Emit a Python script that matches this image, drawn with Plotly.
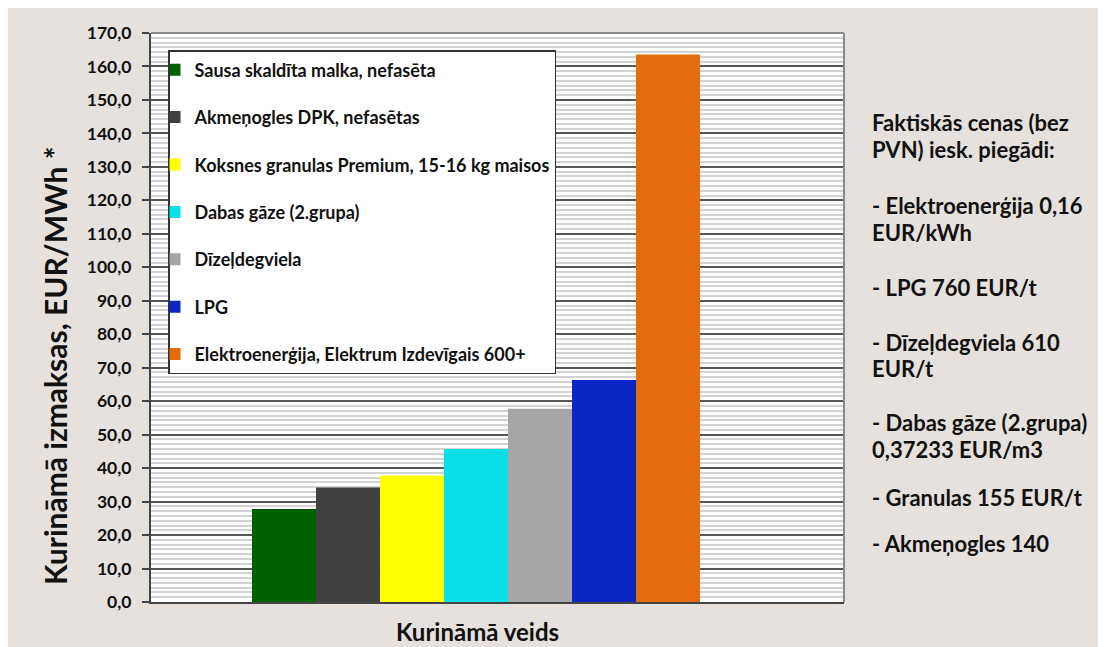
import plotly.graph_objects as go

# ---- data ----
category = ["Kurināmā veids"]
series_names = [
    "Sausa skaldīta malka, nefasēta",
    "Akmeņogles DPK, nefasētas",
    "Koksnes granulas Premium, 15-16 kg maisos",
    "Dabas gāze (2.grupa)",
    "Dīzeļdegviela",
    "LPG",
    "Elektroenerģija, Elektrum Izdevīgais 600+",
]
series_values = [27.8, 34.2, 37.8, 45.7, 57.7, 66.3, 163.6]
series_colors = ["#006100", "#404040", "#ffff00", "#08dfe6", "#a6a6a6", "#0a27c4", "#e46c0a"]
y_title = "Kurināmā izmaksas, EUR/MWh *"
x_title = "Kurināmā veids"
note_lines = [
    "Faktiskās cenas (bez",
    "PVN) iesk. piegādi:",
    "- Elektroenerģija 0,16",
    "EUR/kWh",
    "- LPG 760 EUR/t",
    "- Dīzeļdegviela 610",
    "EUR/t",
    "- Dabas gāze (2.grupa)",
    "0,37233 EUR/m3",
    "- Granulas 155 EUR/t",
    "- Akmeņogles 140",
]

# ---- layout geometry (screen pixels; page has an 8px body margin) ----
OX, OY = 8, 8
FIG_W, FIG_H = 1098, 639
L, R, T, B = 151, 844, 33, 602          # plot area in screen pixels
W, H = R - L, B - T
FONT = "Lato"
BEIGE = "#e6e1dd"


def px2x(px):
    return (px - L) / W


def py2y(py):
    return (B - py) / H


fig = go.Figure()
for i, (name, val, col) in enumerate(zip(series_names, series_values, series_colors)):
    fig.add_trace(go.Bar(
        x=category, y=[val], name=name,
        marker=dict(color=col, line=dict(width=0)),
        legendgroup=f"g{i}",
    ))

note_y = [123, 150, 205, 232, 287, 342, 368, 423, 450, 497, 543]
annotations = []
for line, yp in zip(note_lines, note_y):
    annotations.append(dict(
        text=line, xref="paper", yref="paper", x=px2x(870), y=py2y(yp),
        xanchor="left", yanchor="middle", showarrow=False,
        font=dict(family=FONT, size=22, color="#111111", weight="bold"),
    ))
annotations.append(dict(
    text=y_title, xref="paper", yref="paper", x=px2x(55), y=py2y(366),
    xanchor="center", yanchor="middle", textangle=-90, showarrow=False,
    font=dict(family=FONT, size=30, color="#111111", weight="bold"),
))
annotations.append(dict(
    text=x_title, xref="paper", yref="paper", x=px2x(477), y=py2y(631),
    xanchor="center", yanchor="middle", showarrow=False,
    font=dict(family=FONT, size=24, color="#111111", weight="bold"),
))

shapes = [
    # white plot area
    dict(type="rect", xref="paper", yref="paper", layer="below",
         x0=0, x1=1, y0=0, y1=1, fillcolor="white", line=dict(width=0)),
    # lighter top / right frame
    dict(type="line", xref="paper", yref="paper", x0=0, x1=1, y0=1, y1=1,
         line=dict(color="#8a8a8a", width=2)),
    dict(type="line", xref="paper", yref="paper", x0=1, x1=1, y0=0, y1=1,
         line=dict(color="#8a8a8a", width=2)),
]

shift = ((L + R) / 2 - 476) / W
fig.update_layout(
    width=FIG_W, height=FIG_H,
    margin=dict(l=L - OX, r=FIG_W - (R - OX), t=T - OY, b=FIG_H - (B - OY)),
    paper_bgcolor=BEIGE, plot_bgcolor="white",
    separators=",.",
    barmode="group", bargap=0.3535, bargroupgap=0,
    showlegend=True,
    legend=dict(
        x=px2x(168), y=py2y(50), xanchor="left", yanchor="top",
        bgcolor="white", bordercolor="#333333", borderwidth=1.5,
        font=dict(family=FONT, size=18, color="#111111", weight="bold"),
        tracegroupgap=21, indentation=-15, itemwidth=30,
    ),
    font=dict(family=FONT, color="#111111"),
    annotations=annotations,
    shapes=shapes,
    xaxis=dict(
        range=[-0.5 + shift, 0.5 + shift], showticklabels=False, ticks="",
        showgrid=False, showline=True, linecolor="#444444", linewidth=2,
        mirror=False, zeroline=False,
    ),
    yaxis=dict(
        range=[0, 170], dtick=10, tickformat=".1f",
        ticks="outside", ticklen=7, tickcolor="#444444", tickwidth=1.5,
        ticklabelstandoff=7,
        tickfont=dict(family=FONT, size=17.5, color="#111111", weight="bold"),
        showgrid=True, gridcolor="#555555", gridwidth=1.5,
        showline=True, linecolor="#444444", linewidth=2, mirror=False,
        zeroline=False,
        minor=dict(dtick=10 / 7, showgrid=True, gridcolor="#d2d2d2", gridwidth=2, ticks=""),
    ),
)

fig.write_html("out.html")
